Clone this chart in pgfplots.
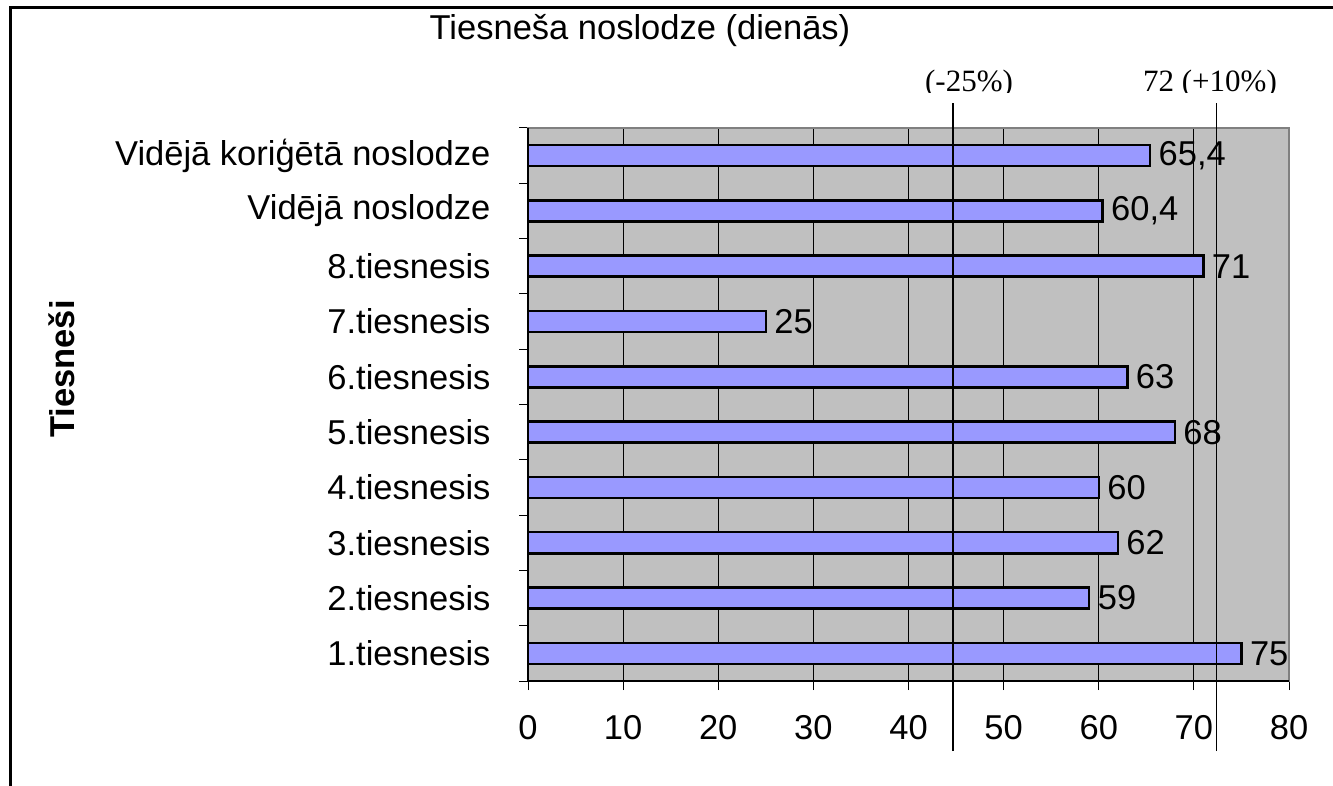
\documentclass[border=0pt]{standalone}
\usepackage{fontspec}
\setmainfont{Liberation Sans}
\newfontfamily\seriffont{Liberation Serif}
\usepackage{pgfplots}
\pgfplotsset{compat=1.18}
\definecolor{barblue}{HTML}{9999FF}
\definecolor{plotgray}{HTML}{C0C0C0}
\definecolor{bordergray}{HTML}{808080}
\newcommand\fs{\fontsize{34.5}{41}\selectfont}
\begin{document}
\begin{tikzpicture}[x=1pt,y=1pt]
\useasboundingbox (0,0) rectangle (1333,785);
\draw[line width=3pt] (10,-5) -- (10,777) -- (1340,777);
\node[font=\fs, anchor=base] at (640,745) {Tiesneša noslodze (dienās)};
\node[font=\fs\bfseries, rotate=90] at (62,416) {Tiesneši};
\begin{scope}
\clip (0,692) rectangle (1333,785);
\node[font=\seriffont\fontsize{31}{36}\selectfont, anchor=base] at (969,693) {(-25\%)};
\node[font=\seriffont\fontsize{31}{36}\selectfont, anchor=base] at (1210,693) {72 (+10\%)};
\end{scope}
\begin{axis}[
  at={(528pt,104pt)}, anchor=south west,
  scale only axis, width=761pt, height=553pt,
  xmin=0, xmax=80, ymin=0.5, ymax=10.5,
  clip=false,
  axis background/.style={fill=plotgray},
  axis line style={draw=bordergray, line width=1.5pt},
  xtick={0,10,...,80},
  xtick pos=bottom, ytick pos=left,
  xmajorgrids, major grid style={black, line width=1pt},
  tick align=outside,
  major tick length=9pt,
  tick style={black, line width=1pt},
  ytick={0.5,1.5,...,10.5},
  yticklabels={},
  extra y ticks={1,...,10},
  extra y tick labels={1.tiesnesis\hspace{10pt},2.tiesnesis,3.tiesnesis,4.tiesnesis,5.tiesnesis,6.tiesnesis,7.tiesnesis\hspace{10pt},8.tiesnesis,Vidējā noslodze,Vidējā koriģētā noslodze\hspace{5pt}},
  extra y tick style={major tick length=0pt, tick style={draw=none}, yticklabel style={xshift=-34pt}},
  ticklabel style={font=\fs},
  xticklabel style={yshift=-22pt},
  /pgf/number format/assume math mode=true,
]
\addplot[xbar, bar width=21pt, fill=barblue, draw=black, line width=2.5pt,
  nodes near coords, point meta=explicit symbolic,
  every node near coord/.append style={font=\fs, anchor=west, text=black, xshift=4pt}]
  table[meta=lbl] {
x y lbl
75 1 75
59 2 59
62 3 62
60 4 60
68 5 68
63 6 63
25 7 25
71 8 71
60.4 9 {60,4}
65.4 10 {65,4}
};
\addplot[sharp plot, black, line width=1.5pt, forget plot] coordinates {(44.7,-0.77) (44.7,10.95)};
\addplot[sharp plot, black, line width=1.5pt, forget plot] coordinates {(72.4,-0.77) (72.4,10.95)};
\draw[black, line width=1.5pt] (rel axis cs:0,1) -- (rel axis cs:0,0) -- (rel axis cs:1,0);
\end{axis}
\end{tikzpicture}
\end{document}
